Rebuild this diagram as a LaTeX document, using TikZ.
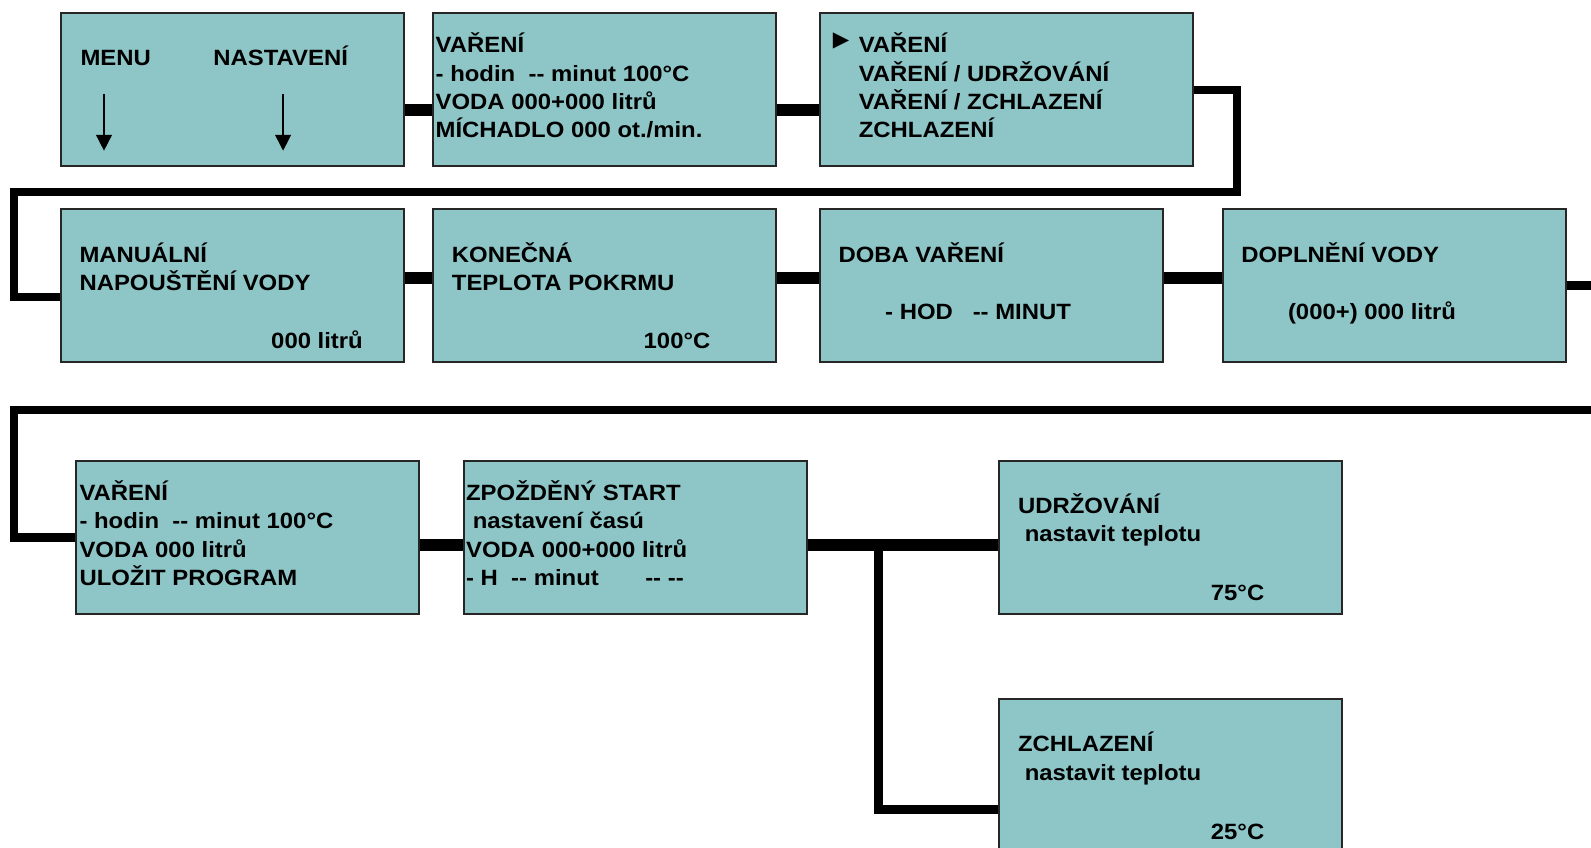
\documentclass[tikz,border=0pt]{standalone}
\usepackage{fontspec}
\setmainfont{Liberation Sans}[FakeStretch=1.08]
\newfontfamily\symfont{DejaVu Sans}
\usetikzlibrary{arrows.meta, positioning}
\definecolor{lcdteal}{RGB}{142,198,200}

\begin{document}
\begin{tikzpicture}[x=0.5pt, y=-0.5pt,
    screen/.style={rectangle, draw=black!85, line width=1pt, fill=lcdteal,
        anchor=north west, minimum width=169pt, minimum height=75.5pt, inner sep=0pt},
    txt/.style={anchor=base west, inner sep=0pt, align=left,
        font=\fontsize{10.9}{14}\selectfont\bfseries},
    bus/.style={line width=5.9pt},
    wire/.style={line width=4.2pt},
    pointer/.style={line width=0.75pt, -{Triangle[width=7.75pt, length=7.75pt]}}]
    \useasboundingbox (0,0) rectangle (1568,835);

    % Row 1: menu and main screens
    \node[screen] (menu) at (59,12) {};
    \node[screen, right=13.5pt of menu] (vareni) {};
    \node[screen, right=20.5pt of vareni, minimum width=184pt] (rezim) {};

    \node[txt] (menutxt) at ([shift={(20,53)}]menu.north west) {MENU};
    \node[txt] (nasttxt) at ([shift={(151,53)}]menu.north west) {NASTAVENÍ};
    \draw[pointer] ([shift={(43.5,80.6)}]menu.north west) -- ([shift={(43.5,136.5)}]menu.north west);
    \draw[pointer] ([shift={(220,80.6)}]menu.north west) -- ([shift={(220,136.5)}]menu.north west);

    % multi-line texts sit on the baseline of their last line
    \node[txt] (varenitxt) at ([shift={(3,124)}]vareni.north west)
        {VAŘENÍ\\- hodin~ -{}- minut 100°C\\VODA 000+000 litrů\\MÍCHADLO 000 ot./min.};
    \node[font=\symfont\fontsize{10.5}{10.5}\selectfont, inner sep=0pt] (cursor)
        at ([shift={(22,28)}]rezim.north west) {▶};
    \node[txt] (rezimtxt) at ([shift={(39,124)}]rezim.north west)
        {VAŘENÍ\\VAŘENÍ / UDRŽOVÁNÍ\\VAŘENÍ / ZCHLAZENÍ\\ZCHLAZENÍ};

    % Row 2: settings
    \node[screen] (manual) at (59,205) {};
    \node[screen, right=13.5pt of manual] (konecna) {};
    \node[screen, right=20.5pt of konecna] (doba) {};
    \node[screen, right=28.5pt of doba] (doplneni) {};

    \node[txt] (manualtxt) at ([shift={(19,81.5)}]manual.north west) {MANUÁLNÍ\\NAPOUŠTĚNÍ VODY};
    \node[txt, anchor=base east] (manualval) at ([shift={(299,138)}]manual.north west) {000 litrů};
    \node[txt] (konecnatxt) at ([shift={(19,81.5)}]konecna.north west) {KONEČNÁ\\TEPLOTA POKRMU};
    \node[txt] (konecnaval) at ([shift={(208,138)}]konecna.north west) {100°C};
    \node[txt] (dobatxt) at ([shift={(19,53.5)}]doba.north west) {DOBA VAŘENÍ};
    \node[txt] (dobaval) at ([shift={(65,110)}]doba.north west) {- HOD~~ -{}- MINUT};
    \node[txt] (doplntxt) at ([shift={(19,53.5)}]doplneni.north west) {DOPLNĚNÍ VODY};
    \node[txt] (doplnval) at ([shift={(65,110)}]doplneni.north west) {(000+) 000 litrů};

    % Row 3: summary, delayed start and after-cooking modes
    \node[screen] (souhrn) at (74,453) {};
    \node[screen, right=21pt of souhrn] (start) {};
    \node[screen, right=94pt of start] (udrz) {};
    \node[screen, below=41pt of udrz] (chlaz) {};

    \node[txt] (souhrntxt) at ([shift={(4,124)}]souhrn.north west)
        {VAŘENÍ\\- hodin~ -{}- minut 100°C\\VODA 000 litrů\\ULOŽIT PROGRAM};
    \node[txt] (starttxt) at ([shift={(3,124)}]start.north west)
        {ZPOŽDĚNÝ START\\~nastavení časú\\VODA 000+000 litrů\\- H~ -{}- minut~~~~~~ -{}- -{}-};
    \node[txt] (udrztxt) at ([shift={(19,81)}]udrz.north west) {UDRŽOVÁNÍ\\~nastavit teplotu};
    \node[txt] (udrzval) at ([shift={(209,139)}]udrz.north west) {75°C};
    \node[txt] (chlaztxt) at ([shift={(19,81)}]chlaz.north west) {ZCHLAZENÍ\\~nastavit teplotu};
    \node[txt] (chlazval) at ([shift={(209,139)}]chlaz.north west) {25°C};

    % Connectors
    \draw[bus] ([yshift=-9.75pt]menu.east) -- ([yshift=-9.75pt]vareni.west);
    \draw[bus] ([yshift=-9.75pt]vareni.east) -- ([yshift=-9.75pt]rezim.west);

    \coordinate (turnA) at (1219,189);
    \coordinate (turnB) at (14,189);
    \draw[wire] (rezim.east) -| (turnA) -- (turnB) |- ([yshift=-5.5pt]manual.west);

    \foreach \a/\b in {manual/konecna, konecna/doba, doba/doplneni}
        \draw[bus] ([yshift=3.75pt]\a.east) -- ([yshift=3.75pt]\b.west);

    \coordinate (edgeA) at (1600,404);
    \coordinate (turnC) at (14,404);
    \draw[wire] (doplneni.east) -| (edgeA) -- (turnC) |- (souhrn.west);

    \draw[bus] ([yshift=-3.75pt]souhrn.east) -- ([yshift=-3.75pt]start.west);
    \draw[bus] ([yshift=-3.75pt]start.east) -- ([yshift=-3.75pt]udrz.west);
    \coordinate (branch) at (866,536);
    \draw[wire] (branch) |- ([yshift=-16.75pt]chlaz.west);
\end{tikzpicture}
\end{document}
